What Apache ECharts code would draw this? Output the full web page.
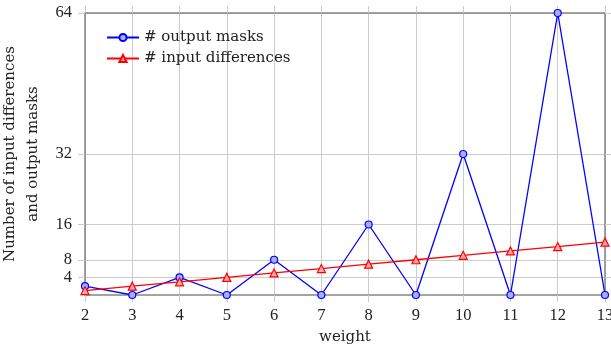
<!DOCTYPE html>
<html>
<head>
<meta charset="utf-8">
<script src="https://cdn.jsdelivr.net/npm/echarts@6/dist/echarts.min.js"></script>
<style>
  html, body { margin: 0; padding: 0; background: #fff; }
  #chart { width: 611px; height: 346px; }
</style>
</head>
<body>
<div id="chart"></div>
<script>
// data
const weights = [2, 3, 4, 5, 6, 7, 8, 9, 10, 11, 12, 13];
const outputMasks = [2, 0, 4, 0, 8, 0, 16, 0, 32, 0, 64, 0];
const inputDiffs = [1, 2, 3, 4, 5, 6, 7, 8, 9, 10, 11, 12];
const yTicks = [4, 8, 16, 32, 64];

const numFont = "'Liberation Serif', serif";
const textFont = "'DejaVu Serif', serif";
const axisDark = "#858585";
const gridLight = "#cccccc";
const ink = "#222";

const chart = echarts.init(document.getElementById("chart"), null, { renderer: "canvas" });

const pairs = (ys) => weights.map((w, i) => [w, ys[i]]);

// same look for the frame on all four sides
const frame = { show: true, onZero: false, lineStyle: { color: axisDark, width: 1.5 } };
const ticks = { show: true, inside: false, length: 7, lineStyle: { color: gridLight } };

chart.setOption({
  animation: false,
  grid: { left: 85, right: 6, top: 13, bottom: 51, outerBoundsMode: "none" },
  legend: {
    orient: "vertical",
    left: 101,
    top: 25,
    itemWidth: 32,
    itemHeight: 9,
    itemGap: 6,
    textStyle: { fontFamily: textFont, fontSize: 15, color: ink },
    data: ["# output masks", "# input differences"],
  },
  xAxis: [
    {
      type: "value",
      min: 2,
      max: 13,
      interval: 1,
      name: "weight",
      nameLocation: "middle",
      nameGap: 35,
      nameTextStyle: { fontFamily: textFont, fontSize: 15, color: ink },
      axisLine: frame,
      axisTick: ticks,
      axisLabel: { fontFamily: numFont, fontSize: 16.5, color: ink, margin: 12 },
      splitLine: { show: true, lineStyle: { color: gridLight, width: 1 } },
    },
    {
      type: "value",
      position: "top",
      min: 2,
      max: 13,
      interval: 1,
      axisLine: frame,
      axisTick: ticks,
      axisLabel: { show: false },
      splitLine: { show: false },
    },
  ],
  yAxis: [
    {
      type: "value",
      min: 0,
      max: 64,
      name: "Number of input differences\nand output masks",
      nameLocation: "middle",
      nameGap: 35,
      nameTextStyle: { fontFamily: textFont, fontSize: 15, color: ink, lineHeight: 23 },
      axisLine: frame,
      axisTick: Object.assign({ customValues: yTicks }, ticks),
      axisLabel: { fontFamily: numFont, fontSize: 16.5, color: ink, margin: 13, customValues: yTicks },
      splitLine: { show: true, lineStyle: { color: gridLight, width: 1 } },
    },
    {
      type: "value",
      position: "right",
      min: 0,
      max: 64,
      axisLine: frame,
      axisTick: Object.assign({ customValues: yTicks }, ticks),
      axisLabel: { show: false },
      splitLine: { show: false },
    },
  ],
  series: [
    {
      name: "# output masks",
      type: "line",
      data: pairs(outputMasks),
      symbol: "circle",
      symbolSize: 7,
      lineStyle: { color: "#0000ff", width: 1.3 },
      itemStyle: { color: "#aab0ff", borderColor: "#0000ff", borderWidth: 1.2 },
      clip: false,
    },
    {
      name: "# input differences",
      type: "line",
      data: pairs(inputDiffs),
      symbol: "triangle",
      symbolSize: 8,
      lineStyle: { color: "#ff0000", width: 1.3 },
      itemStyle: { color: "#ffaaaa", borderColor: "#ff0000", borderWidth: 1.2 },
      clip: false,
    },
  ],
});
</script>
</body>
</html>
